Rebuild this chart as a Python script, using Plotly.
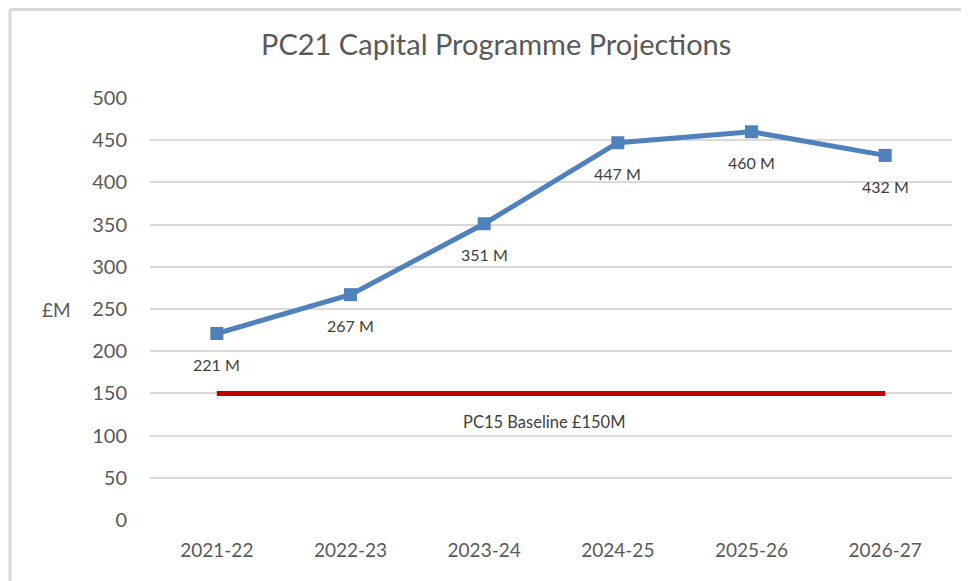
import plotly.graph_objects as go

categories = ["2021-22", "2022-23", "2023-24", "2024-25", "2025-26", "2026-27"]
projections = [221, 267, 351, 447, 460, 432]
point_labels = ["221 M", "267 M", "351 M", "447 M", "460 M", "432 M"]
baseline = [150, 150, 150, 150, 150, 150]
baseline_label = "PC15 Baseline £150M"
y_ticks = [0, 50, 100, 150, 200, 250, 300, 350, 400, 450, 500]

FONT = "Lato, 'Liberation Sans', sans-serif"
GRAY = "#595959"

W, H = 961, 573  # page body has an 8px margin

fig = go.Figure()
fig.add_trace(go.Scatter(
    x=categories, y=baseline, mode="lines",
    line=dict(color="#C00000", width=5), hoverinfo="skip", showlegend=False))
fig.add_trace(go.Scatter(
    x=categories, y=projections, mode="lines+markers",
    line=dict(color="#4F81BD", width=5),
    marker=dict(symbol="square", size=13, color="#4F81BD"),
    showlegend=False))

for c, v, t in zip(categories, projections, point_labels):
    fig.add_annotation(x=c, y=v, text=t, showarrow=False, yshift=-31,
                       font=dict(family=FONT, size=16, color="#404040"))

fig.add_annotation(x=2.45, y=baseline[0], xref="x", yref="y", text=baseline_label,
                   showarrow=False, yshift=-29,
                   font=dict(family=FONT, size=16.5, color="#404040"))

fig.add_annotation(x=-0.116, y=250, xref="paper", yref="y", text="£M",
                   showarrow=False, xanchor="center",
                   font=dict(family=FONT, size=19, color=GRAY))

# chart border (top and left visible)
top = 1 + 88.5 / 422.4
fig.add_shape(type="line", xref="paper", yref="paper", x0=-0.1746, x1=1.05,
              y0=top, y1=top, line=dict(color="#D9D9D9", width=3))
fig.add_shape(type="line", xref="paper", yref="paper", x0=-0.1746, x1=-0.1746,
              y0=top, y1=-0.2, line=dict(color="#D9D9D9", width=3))

fig.update_layout(
    width=W, height=H,
    margin=dict(l=142, r=17, t=90, b=61),
    paper_bgcolor="white", plot_bgcolor="white",
    title=dict(text="PC21 Capital Programme Projections", x=0.508, xanchor="center",
               y=1 - 37 / H, yanchor="middle", yref="container",
               font=dict(family=FONT, size=29, color=GRAY)),
    xaxis=dict(type="category", showgrid=False, zeroline=False, showline=False,
               tickfont=dict(family=FONT, size=19, color=GRAY),
               ticklabelstandoff=17, range=[-0.5, 5.5]),
    yaxis=dict(range=[0, 500], tickvals=y_ticks, showgrid=True, gridcolor="#D9D9D9",
               gridwidth=2, zeroline=False, showline=False,
               tickfont=dict(family=FONT, size=20, color=GRAY),
               ticklabelstandoff=22),
)

fig.write_html("out.html")
